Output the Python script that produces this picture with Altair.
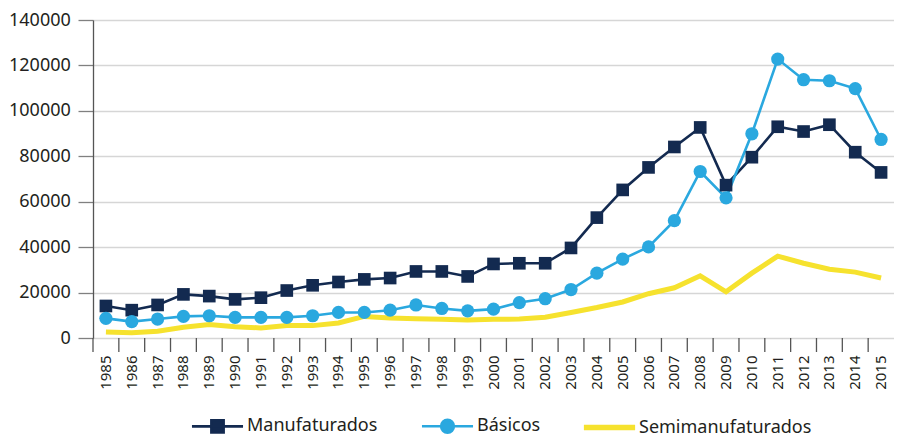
import altair as alt
import pandas as pd

years = [str(y) for y in range(1985, 2016)]
series = ["Manufaturados", "Básicos", "Semimanufaturados"]
colors = ["#132a50", "#2aa8df", "#f6e22e"]

manufaturados = [14100, 12250, 14550, 19200, 18450, 17000, 17750, 20900, 23200, 24650,
                 25800, 26400, 29300, 29300, 27100, 32600, 32900, 32900, 39650, 53000,
                 65200, 75100, 84100, 92700, 67300, 79600, 93000, 90900, 93900, 81800, 72900]
basicos = [8650, 7200, 8350, 9500, 9800, 9100, 9100, 9100, 9800, 11250,
           11250, 12250, 14550, 13000, 11950, 12700, 15600, 17300, 21340, 28550,
           34750, 40100, 51650, 73300, 61700, 89900, 122800, 113700, 113250, 109800, 87400]
semi = [2600, 2300, 3000, 4750, 5900, 5000, 4450, 5450, 5450, 6600,
        9500, 8800, 8500, 8200, 7900, 8200, 8350, 9100, 11250, 13400,
        15850, 19500, 22100, 27400, 20350, 28550, 36050, 32900, 30300, 29000, 26400]
y_ticks = [0, 20000, 40000, 60000, 80000, 100000, 120000, 140000]

rows = []
for name, vals in zip(series, [manufaturados, basicos, semi]):
    for yr, v in zip(years, vals):
        rows.append({"ano": yr, "valor": v, "serie": name})
df = pd.DataFrame(rows)
df_years = pd.DataFrame({"ano": years})

TXT = "#231f20"
FONT = "Noto Sans"
H = 318
AXC = "#555555"

y_style = dict(labelFontSize=18, labelColor=TXT, labelFont=FONT, tickSize=15,
               tickColor="#808080", tickWidth=1.3, domainColor=AXC, domainWidth=1.3,
               gridColor="#d6d6d6", gridWidth=1.3, labelPadding=7.7)

x_scale = alt.Scale(type="band", domain=years, paddingInner=0, paddingOuter=0)
x_enc = alt.X(
    "ano:O", scale=x_scale,
    axis=alt.Axis(title=None, labels=False, ticks=False, grid=False,
                  domainColor=AXC, domainWidth=1.3),
)
y_enc = alt.Y(
    "valor:Q",
    scale=alt.Scale(domain=[0, 140000], nice=False),
    axis=alt.Axis(title=None, values=y_ticks, format="d", **y_style),
)

P_SQ = "M-4.17,0H4.17M-1,-1H1V1H-1Z"
P_CI = "M-4.17,0H4.17M-1.04,0A1.04,1.04,0,1,0,1.04,0A1.04,1.04,0,1,0,-1.04,0Z"
P_LN = "M-3.97,-0.23H3.97V0.23H-3.97Z"
shape_expr = ("datum.value === 'Manufaturados' ? '" + P_SQ + "' : datum.value === 'Básicos' ? '"
              + P_CI + "' : '" + P_LN + "'")
fill_expr = ("datum.value === 'Manufaturados' ? '" + colors[0] + "' : datum.value === 'Básicos' ? '"
             + colors[1] + "' : '" + colors[2] + "'")

legend = alt.Legend(
    title=None, orient="none", legendX=99, legendY=397, direction="horizontal",
    symbolType={"expr": shape_expr}, symbolFillColor={"expr": fill_expr},
    symbolSize=150, symbolStrokeWidth=2.6, symbolOffset=16.5, labelOffset=20.5,
    columnPadding=38, labelFontSize=18, labelFont=FONT, labelColor=TXT, padding=0,
    symbolOpacity=1, labelLimit=0,
)
color_scale = alt.Scale(domain=series, range=colors)

base = alt.Chart(df).encode(x=x_enc, y=y_enc)

thin = base.transform_filter(alt.datum.serie != "Semimanufaturados").mark_line(strokeWidth=2.6).encode(
    color=alt.Color("serie:N", scale=color_scale, legend=legend)
)
yellow = base.transform_filter(alt.datum.serie == "Semimanufaturados").mark_line(
    strokeWidth=5, color=colors[2])
squares = base.transform_filter(alt.datum.serie == "Manufaturados").mark_square(
    size=160, opacity=1, color=colors[0])
circles = base.transform_filter(alt.datum.serie == "Básicos").mark_circle(
    size=175, opacity=1, color=colors[1])

# x-axis ticks at band boundaries and rotated year labels, drawn from the year list
ticks = alt.Chart(df_years).mark_rule(color=AXC, strokeWidth=1.3).encode(
    x=alt.X("ano:O", scale=x_scale, bandPosition=0, axis=None),
    y=alt.value(H), y2=alt.value(H + 14),
)
labels = alt.Chart(df_years).mark_text(
    angle=270, align="right", baseline="middle", fontSize=15, font=FONT, color=TXT
).encode(
    x=alt.X("ano:O", scale=x_scale, axis=None),
    y=alt.value(H + 17.5),
    text="ano:N",
    size=alt.value(15),
)

chart = alt.layer(thin, yellow, squares, circles, ticks, labels).properties(
    width=801, height=H,
    autosize=alt.AutoSizeParams(type="none"),
    padding={"left": 85, "top": 12, "right": 0, "bottom": 98},
).configure(
    font=FONT
).configure_view(
    stroke=None
).configure_axisY(**y_style).configure_axisYQuantitative(**y_style
).configure_legend(
    labelFontSize=18, labelFont=FONT, labelColor=TXT
).configure_text(fontSize=15)

chart.save("out.html", embed_options={"renderer": "svg", "actions": False})
